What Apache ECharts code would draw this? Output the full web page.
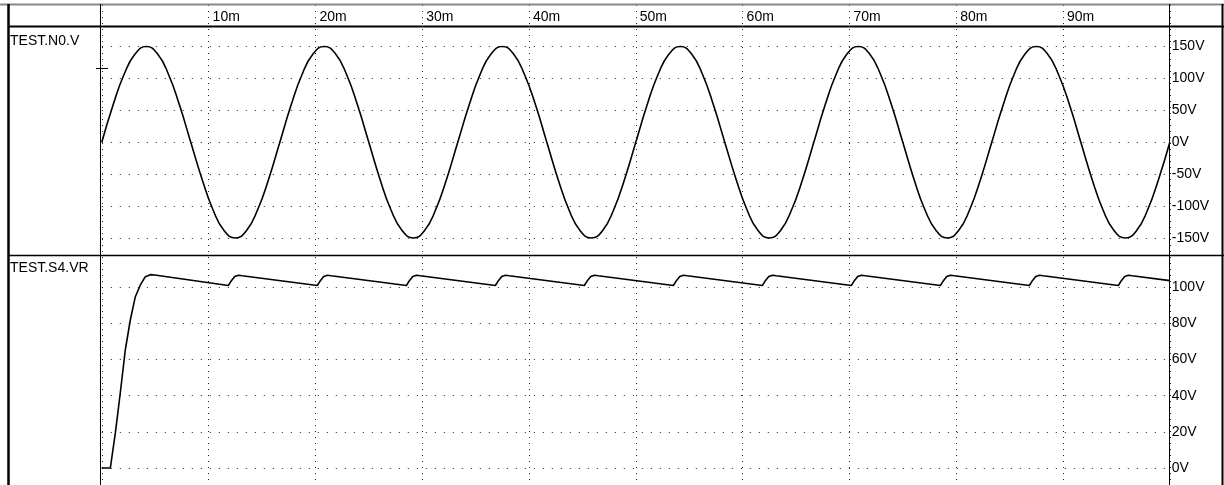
<!DOCTYPE html>
<html><head><meta charset="utf-8">
<script src="https://cdn.jsdelivr.net/npm/echarts@6/dist/echarts.min.js"></script>
<style>html,body{margin:0;padding:0;background:#fff}#c{width:1224px;height:485px}</style>
</head><body><div id="c"></div>
<script>
// ---- data (time in ms, voltage in V) ----
const paneTitles = ['TEST.N0.V', 'TEST.S4.VR'];
const timeTicks = [0, 10, 20, 30, 40, 50, 60, 70, 80, 90, 100];
const srcTicks = [-150, -100, -50, 0, 50, 100, 150];
const outTicks = [0, 20, 40, 60, 80, 100];

const srcTime = [0,1.04,2.08,3.13,4.17,5.21,6.25,7.29,8.33,9.38,10.42,11.46,12.5,13.54,14.58,15.63,
  16.67,17.71,18.75,19.79,20.83,21.88,22.92,23.96,25,26.04,27.08,28.13,29.17,30.21,31.25,32.29,
  33.33,34.38,35.42,36.46,37.5,38.54,39.58,40.63,41.67,42.71,43.75,44.79,45.83,46.88,47.92,48.96,
  50,51.04,52.08,53.13,54.17,55.21,56.25,57.29,58.33,59.38,60.42,61.46,62.5,63.54,64.58,65.63,
  66.67,67.71,68.75,69.79,70.83,71.88,72.92,73.96,75,76.04,77.08,78.13,79.17,80.21,81.25,82.29,
  83.33,84.38,85.42,86.46,87.5,88.54,89.58,90.63,91.67,92.71,93.75,94.79,95.83,96.88,97.92,98.96,100];
const srcVolt = [0,57.4,106.1,138.6,150,138.6,106.1,57.4,0,-57.4,-106.1,-138.6,-150,-138.6,-106.1,-57.4,
  0,57.4,106.1,138.6,150,138.6,106.1,57.4,0,-57.4,-106.1,-138.6,-150,-138.6,-106.1,-57.4,
  0,57.4,106.1,138.6,150,138.6,106.1,57.4,0,-57.4,-106.1,-138.6,-150,-138.6,-106.1,-57.4,
  0,57.4,106.1,138.6,150,138.6,106.1,57.4,0,-57.4,-106.1,-138.6,-150,-138.6,-106.1,-57.4,
  0,57.4,106.1,138.6,150,138.6,106.1,57.4,0,-57.4,-106.1,-138.6,-150,-138.6,-106.1,-57.4,
  0,57.4,106.1,138.6,150,138.6,106.1,57.4,0,-57.4,-106.1,-138.6,-150,-138.6,-106.1,-57.4,0];

const outTime = [0,0.8,1.27,1.73,2.2,2.67,3.14,3.61,4.08,4.55,4.95,
  11.85,12.15,12.45,12.8,13.15,
  20.18,20.48,20.78,21.13,21.48,
  28.52,28.82,29.12,29.47,29.82,
  36.85,37.15,37.45,37.8,38.15,
  45.18,45.48,45.78,46.13,46.48,
  53.52,53.82,54.12,54.47,54.82,
  61.85,62.15,62.45,62.8,63.15,
  70.18,70.48,70.78,71.13,71.48,
  78.52,78.82,79.12,79.47,79.82,
  86.85,87.15,87.45,87.8,88.15,
  95.18,95.48,95.78,96.13,96.48,
  100];
const outVolt = [0,0,19.4,41.5,65.3,81.9,94.8,101.3,105.9,107.0,106.8,
  101.0,103.8,106.0,106.7,106.4,
  101.0,103.8,106.0,106.7,106.4,
  101.0,103.8,106.0,106.7,106.4,
  101.0,103.8,106.0,106.7,106.4,
  101.0,103.8,106.0,106.7,106.4,
  101.0,103.8,106.0,106.7,106.4,
  101.0,103.8,106.0,106.7,106.4,
  101.0,103.8,106.0,106.7,106.4,
  101.0,103.8,106.0,106.7,106.4,
  101.0,103.8,106.0,106.7,106.4,
  101.0,103.8,106.0,106.7,106.4,
  103.7];

// ---- chart ----
const FONT = 'Liberation Sans, Arial, sans-serif';
const chart = echarts.init(document.getElementById('c'), null, {renderer: 'canvas'});
const L = 101.8, R = 54.2;
const dotH = {show: true, lineStyle: {color: '#222', width: 1, type: [1, 8]}};
const dotV = {show: true, lineStyle: {color: '#222', width: 1, type: [1, 5]}};
function xAx(i, extra) {
  return Object.assign({
    type: 'value', gridIndex: i, min: timeTicks[0], max: timeTicks[timeTicks.length - 1],
    interval: timeTicks[1] - timeTicks[0],
    axisLine: {show: false}, axisTick: {show: false}, axisLabel: {show: false}, splitLine: {show: false}
  }, extra || {});
}
function yAx(i, ticks) {
  return {
    type: 'value', gridIndex: i, position: 'right', min: ticks[0], max: ticks[ticks.length - 1],
    interval: ticks[1] - ticks[0],
    axisLine: {show: false}, axisTick: {show: false},
    axisLabel: {show: true, margin: 2, color: '#000', fontFamily: FONT, fontSize: 14,
      formatter: v => v + 'V'},
    splitLine: dotH
  };
}
const line = (x, y, x2, y2, w, c) => ({type: 'line', z: 100, silent: true,
  shape: {x1: x, y1: y, x2: x2, y2: y2}, style: {stroke: c || '#000', lineWidth: w}});

chart.setOption({
  animation: false,
  backgroundColor: '#fff',
  title: [
    {text: paneTitles[0], left: 10, top: 34, padding: 0,
      textStyle: {fontFamily: FONT, fontSize: 14, fontWeight: 'normal', color: '#000'}},
    {text: paneTitles[1], left: 10, top: 261, padding: 0,
      textStyle: {fontFamily: FONT, fontSize: 14, fontWeight: 'normal', color: '#000'}}
  ],
  grid: [
    {left: L, right: R, top: 5, bottom: 0},
    {left: L, right: R, top: 46.5, bottom: 485 - 238},
    {left: L, right: R, top: 287.3, bottom: 485 - 468}
  ],
  xAxis: [
    xAx(0, {position: 'top', splitLine: dotV,
      axisLabel: {show: true, inside: true, margin: 5, align: 'left', padding: [0, 0, 0, 4],
        color: '#000', fontFamily: FONT, fontSize: 14, showMinLabel: false, showMaxLabel: false,
        formatter: v => (v === 0 || v === 100) ? '' : v + 'm'}}),
    xAx(1), xAx(2)
  ],
  yAxis: [
    {type: 'value', gridIndex: 0, show: false, min: 0, max: 1},
    yAx(1, srcTicks), yAx(2, outTicks)
  ],
  series: [
    {type: 'line', xAxisIndex: 1, yAxisIndex: 1, showSymbol: false, smooth: true, clip: false,
      lineStyle: {color: '#000', width: 1.6},
      data: srcTime.map((t, i) => [t, srcVolt[i]])},
    {type: 'line', xAxisIndex: 2, yAxisIndex: 2, showSymbol: false, smooth: false, clip: false,
      lineStyle: {color: '#000', width: 1.6},
      data: outTime.map((t, i) => [t, outVolt[i]])}
  ],
  graphic: [
    line(0, 4.5, 1224, 4.5, 2, '#888'),
    line(8.5, 4, 8.5, 485, 2.5),
    line(100.5, 4, 100.5, 485, 1),
    line(1169.5, 4, 1169.5, 485, 1),
    line(1222.5, 4, 1222.5, 485, 2),
    line(8, 26.5, 1224, 26.5, 2),
    line(8, 255.5, 1224, 255.5, 1.5),
    line(96, 68.5, 108, 68.5, 1)
  ]
});
</script></body></html>
